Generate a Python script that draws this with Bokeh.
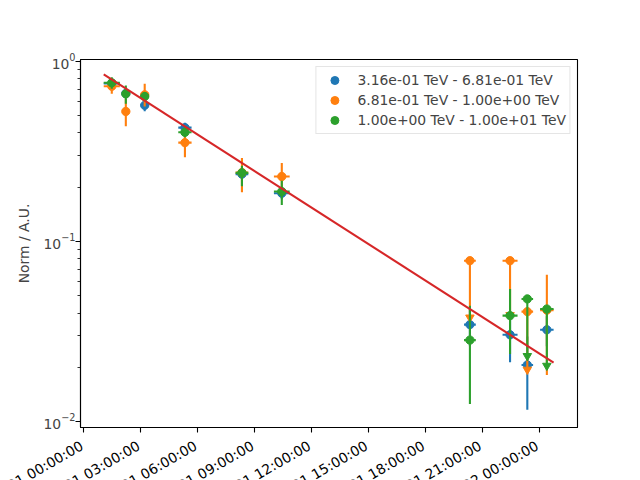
import numpy as np
import pandas as pd
from bokeh.plotting import figure
from bokeh.models import (ColumnDataSource, Range1d, FixedTicker, CustomJSTickFormatter,
                          Label, Legend, LegendItem)
from bokeh.embed import file_html
from bokeh.resources import INLINE

# ---------------- data ----------------
reference_time = "2000-01-01 00:00:00"
# time bin edges, hours after reference time
t_min_h = [1.05, 2.07, 2.99, 4.98, 8.00, 10.02, 20.04, 22.07, 23.07, 24.05]
t_max_h = [1.90, 2.36, 3.43, 5.68, 8.67, 10.85, 20.66, 22.86, 23.68, 24.76]

labels = ["3.16e-01 TeV - 6.81e-01 TeV",
          "6.81e-01 TeV - 1.00e+00 TeV",
          "1.00e+00 TeV - 1.00e+01 TeV"]
colors = ["#1f77b4", "#ff7f0e", "#2ca02c"]

blue_norm = [0.752, 0.662, 0.569, 0.428, 0.236, 0.185, 0.0345, 0.0303, 0.0206, 0.0323]
blue_lo   = [0.722, 0.632, 0.528, 0.401, 0.222, 0.171, 0.0262, 0.0213, 0.0116, 0.0262]
blue_hi   = [0.782, 0.692, 0.597, 0.455, 0.250, 0.199, 0.0428, 0.0393, 0.0296, 0.0384]
blue_ul   = [False] * 10

orange_norm = [0.726, 0.526, 0.651, 0.353, 0.241, 0.229, 0.0781, 0.0781, 0.0407, 0.0415]
orange_lo   = [0.659, 0.435, 0.560, 0.293, 0.187, 0.186, 0.0378, 0.0390, 0.0194, 0.0181]
orange_hi   = [0.793, 0.617, 0.749, 0.413, 0.2905, 0.2726, 0.0781, 0.0781, 0.0407, 0.0653]
orange_ul   = [False] * 6 + [True, True, True, False]

green_norm = [0.759, 0.659, 0.637, 0.403, 0.240, 0.189, 0.0283, 0.0387, 0.0479, 0.0421]
green_lo   = [0.703, 0.580, 0.600, 0.378, 0.202, 0.159, 0.0125, 0.0237, 0.0231, 0.0204]
green_hi   = [0.815, 0.733, 0.674, 0.428, 0.263, 0.217, 0.0439, 0.0544, 0.0479, 0.0421]
green_ul   = [False] * 8 + [True, True]

model_time_h = [1.05, 24.76]
model_norm = [0.845, 0.0212]

tick_hours = [0, 3, 6, 9, 12, 15, 18, 21, 24]
x_range_h = (-0.174, 26.02)
y_range = (0.00926, 1.022)

# ---------------- helpers ----------------
ref = pd.Timestamp(reference_time)
ref_ms = ref.value / 1e6


def to_ms(hours):
    return ref_ms + np.asarray(hours, dtype=float) * 3600e3


FONT = "DejaVu Sans"
FS = "13.9px"
W = 640
LEFT, RIGHT, TOP, BOTTOM = 80, 63, 59, 10
FRAME_W = W - LEFT - RIGHT
FRAME_H = 368
MAIN_H = TOP + FRAME_H + BOTTOM
LABEL_H = 480 - MAIN_H

p = figure(width=W, height=MAIN_H, x_axis_type="datetime", y_axis_type="log",
           output_backend="svg", toolbar_location=None,
           x_range=Range1d(to_ms(x_range_h[0]), to_ms(x_range_h[1])),
           y_range=Range1d(*y_range),
           min_border_left=LEFT, min_border_right=RIGHT, min_border_top=TOP,
           min_border_bottom=BOTTOM)
p.xgrid.visible = False
p.ygrid.visible = False
p.outline_line_color = "black"
p.outline_line_width = 1.1
p.background_fill_color = "white"
p.border_fill_color = "white"

tmid = [(a + b) / 2 for a, b in zip(t_min_h, t_max_h)]

series = [
    (blue_norm, blue_lo, blue_hi, blue_ul),
    (orange_norm, orange_lo, orange_hi, orange_ul),
    (green_norm, green_lo, green_hi, green_ul),
]

items = []
for (norm, lo, hi, ul), col, lab in zip(series, colors, labels):
    src = ColumnDataSource(dict(
        tmin=to_ms(t_min_h), tmax=to_ms(t_max_h), tmid=to_ms(tmid),
        norm=norm, lo=lo, hi=hi))
    p.segment("tmin", "norm", "tmax", "norm", source=src, line_color=col, line_width=2.1)
    p.segment("tmid", "lo", "tmid", "hi", source=src, line_color=col, line_width=2.1)
    ul_idx = [i for i, u in enumerate(ul) if u]
    if ul_idx:
        usrc = ColumnDataSource(dict(
            tmid=to_ms([tmid[i] for i in ul_idx]), lo=[lo[i] for i in ul_idx]))
        p.scatter("tmid", "lo", source=usrc, marker="inverted_triangle", size=8.5,
                  fill_color=col, line_color=col)
    circ = p.scatter("tmid", "norm", source=src, marker="circle", size=8.3,
                     fill_color=col, line_color=col)
    items.append(LegendItem(label=lab, renderers=[circ]))

msrc = ColumnDataSource(dict(t=to_ms(model_time_h), n=model_norm))
p.line("t", "n", source=msrc, line_color="#d62728", line_width=2.1)

# ---------------- axes ----------------
p.yaxis.ticker = FixedTicker(
    ticks=[0.01, 0.1, 1.0],
    minor_ticks=[k * 10.0 ** e for e in (-3, -2, -1, 0) for k in range(2, 10)])
p.yaxis.axis_label = "Norm / A.U."
p.yaxis.axis_label_text_font = FONT
p.yaxis.axis_label_text_font_size = FS
p.yaxis.axis_label_text_font_style = "normal"
p.yaxis.axis_label_standoff = 8
p.yaxis.major_label_text_font = FONT
p.yaxis.major_label_text_font_size = FS
p.yaxis.major_label_standoff = 0

for ax in (p.xaxis[0], p.yaxis[0]):
    ax.axis_line_color = "black"
    ax.axis_line_width = 1.1
    ax.major_tick_line_width = 1.1
    ax.major_tick_out = 5
    ax.major_tick_in = 0
    ax.minor_tick_out = 3
    ax.minor_tick_in = 0
    ax.minor_tick_line_width = 0.8

p.xaxis.ticker = FixedTicker(ticks=list(to_ms(tick_hours)), minor_ticks=[])
p.xaxis.formatter = CustomJSTickFormatter(code="return ''")
p.xaxis.major_label_text_font_size = "0px"
p.xaxis.major_label_standoff = 0

legend = Legend(items=items, location="top_right", margin=7, padding=3, spacing=0,
                label_height=20, glyph_height=20, glyph_width=30, label_standoff=8,
                label_text_font=FONT, label_text_font_size=FS,
                border_line_color="#cccccc", border_line_width=1.1,
                background_fill_alpha=0.8)
p.add_layout(legend, "center")

# ---------------- strip below the axis holding the rotated date labels ----------------
# same time scale as the main frame, extended to the full canvas width
h_per_px = (x_range_h[1] - x_range_h[0]) / FRAME_W
strip_range = Range1d(to_ms(x_range_h[0] - LEFT * h_per_px),
                      to_ms(x_range_h[1] + RIGHT * h_per_px))
q = figure(width=W, height=LABEL_H, x_axis_type="datetime", x_range=strip_range,
           y_range=Range1d(0, 1), output_backend="svg", toolbar_location=None,
           x_axis_location=None, y_axis_location=None,
           min_border_left=0, min_border_right=0, min_border_top=0, min_border_bottom=0)
q.xgrid.visible = False
q.ygrid.visible = False
q.outline_line_color = None
q.background_fill_color = "white"
q.border_fill_color = "white"
for h in tick_hours:
    txt = (ref + pd.Timedelta(hours=h)).strftime("%Y-%m-%d %H:%M:%S")
    q.add_layout(Label(x=float(to_ms(h)), y=LABEL_H, x_units="data", y_units="screen",
                       text=txt, angle=np.pi / 6, text_align="right",
                       text_baseline="top", x_offset=-6, text_font=FONT,
                       text_font_size=FS, text_color="black"))

# two independent roots stacked on the page (no frame alignment between them)
open("out.html", "w").write(file_html((p, q), INLINE))
